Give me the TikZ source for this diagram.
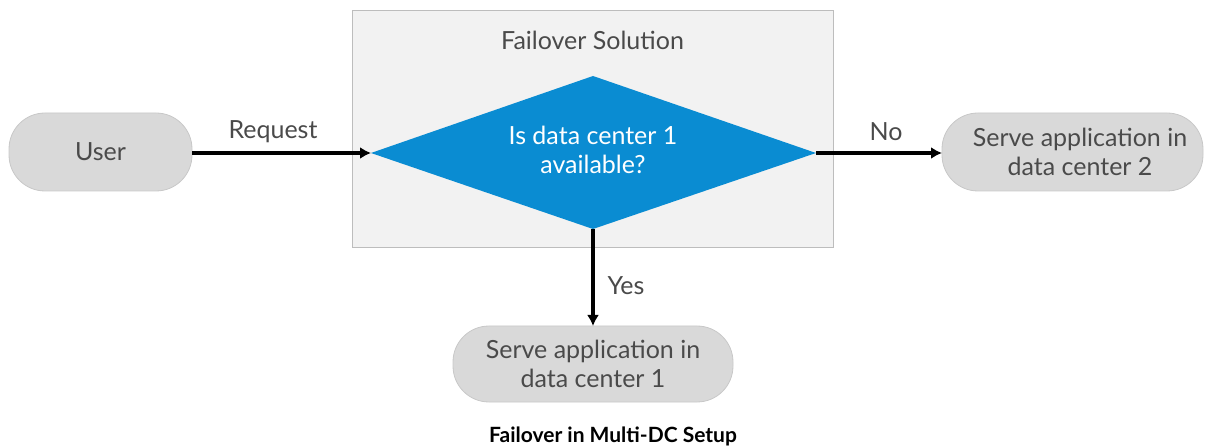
\documentclass[tikz,border=0pt]{standalone}
\usepackage{fontspec}
\setmainfont{Lato}
\usetikzlibrary{arrows.meta,shapes.geometric}
\definecolor{txtgray}{HTML}{4A4A4A}
\definecolor{pillfill}{HTML}{D9D9D9}
\definecolor{pilledge}{HTML}{C8C8C8}
\definecolor{boxfill}{HTML}{F2F2F2}
\definecolor{boxedge}{HTML}{BDBDBD}
\definecolor{diamblue}{HTML}{0A8CD2}
\tikzset{
  pill/.style={rounded corners=36pt, fill=pillfill, draw=pilledge, line width=0.8pt},
  lbl/.style={text=txtgray, font=\fontsize{25}{29}\selectfont, align=center},
  conn/.style={line width=3.2pt, -{Latex[length=11pt,width=12pt]}},
}
\begin{document}
\begin{tikzpicture}[x=1pt,y=-1pt]
\useasboundingbox (0,0) rectangle (1208,446);
% failover solution container
\draw[fill=boxfill, draw=boxedge, line width=0.8pt] (352,10) rectangle (833,247);
\node[lbl] (title) at (592.5,40) {Failover Solution};
% diamond
\fill[diamblue] (371,153) -- (593,76) -- (816,153) -- (593,229) -- cycle;
\coordinate (dL) at (371,153);
\coordinate (dR) at (816,153);
\coordinate (dB) at (593,229);
\node[lbl, text=white] (q) at (593,150) {Is data center 1\\available?};
% pills
\draw[pill] (9,113) rectangle (192,191);
\node[lbl] (user) at (100.5,152) {User};
\coordinate (userR) at (192,153);
\draw[pill] (942,113) rectangle (1203,191);
\node[lbl] (dc2) at (1080,152) {Serve application in\\data center 2};
\coordinate (dc2L) at (942,153);
\draw[pill] (453,326) rectangle (733,402);
\node[lbl] (dc1) at (593,364) {Serve application in\\data center 1};
\coordinate (dc1T) at (593,326);
% connectors
\draw[conn] (userR) -- (dL);
\node[lbl] (req) at (273,132) {Request};
\draw[conn] (dR) -- (dc2L);
\node[lbl] (no) at (886,132) {No};
\draw[conn] (dB) -- (dc1T);
\node[lbl] (yes) at (626,286) {Yes};
% caption
\node[font=\fontsize{21}{24}\selectfont\bfseries, text=black] (cap) at (613,436) {Failover in Multi-DC Setup};
\end{tikzpicture}
\end{document}
